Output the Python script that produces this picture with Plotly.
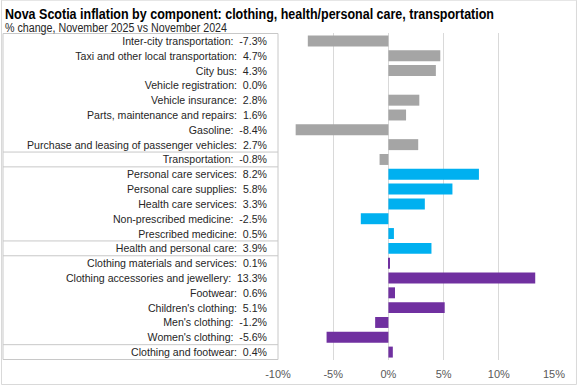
import plotly.graph_objects as go

categories = [
    "Inter-city transportation", "Taxi and other local transportation", "City bus",
    "Vehicle registration", "Vehicle insurance", "Parts, maintenance and repairs",
    "Gasoline", "Purchase and leasing of passenger vehicles", "Transportation",
    "Personal care services", "Personal care supplies", "Health care services",
    "Non-prescribed medicine", "Prescribed medicine", "Health and personal care",
    "Clothing materials and services", "Clothing accessories and jewellery", "Footwear",
    "Children's clothing", "Men's clothing", "Women's clothing", "Clothing and footwear",
]
values = [-7.3, 4.7, 4.3, 0.0, 2.8, 1.6, -8.4, 2.7, -0.8,
          8.2, 5.8, 3.3, -2.5, 0.5, 3.9,
          0.1, 13.3, 0.6, 5.1, -1.2, -5.6, 0.4]
groups = ["transport"] * 9 + ["health"] * 6 + ["clothing"] * 7
group_colors = {"transport": "#A5A5A5", "health": "#00B0F0", "clothing": "#7030A0"}
x_tickvals = [-10, -5, 0, 5, 10, 15]
x_ticktext = ["-10%", "-5%", "0%", "5%", "10%", "15%"]
separators_after = [7, 8, 13, 14, 20]

labels = [f"{c}:\u00a0 {v:.1f}%" for c, v in zip(categories, values)]
colors = [group_colors[g] for g in groups]

FONT = "Liberation Sans, Arial, sans-serif"

fig = go.Figure(go.Bar(
    x=values, y=categories, orientation="h",
    marker=dict(color=colors, line=dict(width=0)),
    width=0.74, hoverinfo="skip",
))

W, H = 577, 385
pl, pr, pt, pb = 277.5, 554, 33.3, 360

fig.update_layout(
    width=W, height=H,
    margin=dict(l=pl, r=W - pr, t=pt, b=H - pb, autoexpand=False),
    paper_bgcolor="white", plot_bgcolor="white",
    font=dict(family=FONT, size=11.5, color="#262626"),
    showlegend=False,
    xaxis=dict(range=[-10, 15], tickvals=x_tickvals, ticktext=x_ticktext,
               showgrid=True, gridcolor="#D9D9D9", gridwidth=1, zeroline=False,
               showline=False, ticks="", tickfont=dict(size=11, color="#595959"),
               ticklabelstandoff=6, fixedrange=True),
    yaxis=dict(autorange="reversed", tickvals=categories, ticktext=labels,
               showgrid=False, zeroline=False, showline=False, ticks="",
               ticklabelstandoff=10, tickfont=dict(size=11.5, color="#262626"),
               fixedrange=True),
)

def px2paper_x(px):
    return (px - pl) / (pr - pl)

def px2paper_y(py):
    return (pb - py) / (pb - pt)

shapes = []
# outer chart border
shapes.append(dict(type="rect", xref="paper", yref="paper",
                   x0=px2paper_x(0.5), x1=px2paper_x(576.5),
                   y0=px2paper_y(384.5), y1=px2paper_y(0.5),
                   line=dict(color="#D9D9D9", width=1), layer="below"))
# label box
bx0, bx1 = px2paper_x(2), px2paper_x(277.5)
shapes.append(dict(type="rect", xref="paper", yref="y",
                   x0=bx0, x1=bx1, y0=-0.5, y1=len(categories) - 0.5,
                   line=dict(color="#C8C8C8", width=1), layer="below"))
for i in separators_after:
    shapes.append(dict(type="line", xref="paper", yref="y",
                       x0=bx0, x1=bx1, y0=i + 0.5, y1=i + 0.5,
                       line=dict(color="#C8C8C8", width=1), layer="below"))
fig.update_layout(shapes=shapes)

fig.add_annotation(xref="paper", yref="paper", x=px2paper_x(2), y=px2paper_y(4.5),
                   xanchor="left", yanchor="top", showarrow=False,
                   text="<b>Nova Scotia inflation by component: clothing, health/personal care, transportation</b>",
                   font=dict(family=FONT, size=14, color="#000000"))
fig.add_annotation(xref="paper", yref="paper", x=px2paper_x(2), y=px2paper_y(19),
                   xanchor="left", yanchor="top", showarrow=False,
                   text="% change, November 2025 vs November 2024",
                   font=dict(family=FONT, size=12, color="#262626"))

post = """
document.body.style.margin='0';document.body.style.padding='0';
var gd = document.getElementById('{plot_id}');
function squeeze(t, len){
  var bb = t.getBBox();
  t.setAttribute('text-anchor', 'start');
  t.setAttribute('x', bb.x.toFixed(1));
  t.setAttribute('textLength', len);
  t.setAttribute('lengthAdjust', 'spacingAndGlyphs');
}
gd.querySelectorAll('text.annotation-text').forEach(function(t){
  var s = t.textContent;
  if (s.indexOf('Nova Scotia') === 0) { squeeze(t, 489); }
  else if (s.indexOf('% change') === 0) { squeeze(t, 222); }
});
gd.querySelectorAll('g.ytick text').forEach(function(t){
  var w = t.getComputedTextLength();
  t.setAttribute('textLength', (w * 0.92).toFixed(1)); t.setAttribute('lengthAdjust', 'spacingAndGlyphs');
});
"""

fig.write_html("out.html", config={"displayModeBar": False}, post_script=post)
